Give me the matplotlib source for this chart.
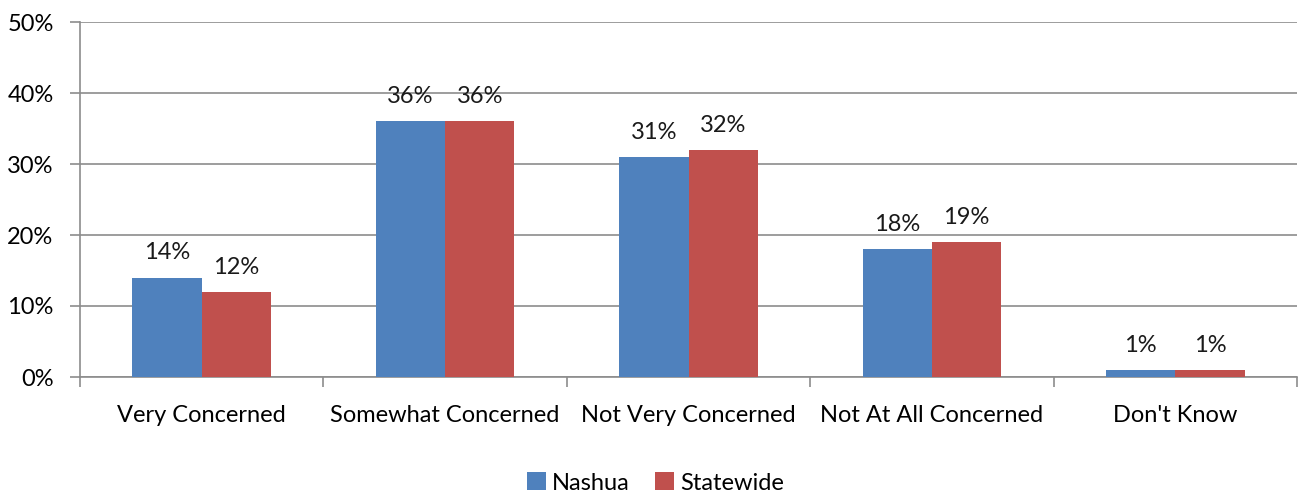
import numpy as np
import matplotlib.pyplot as plt

plt.rcParams['font.family'] = ['Lato', 'DejaVu Sans']

categories = ['Very Concerned', 'Somewhat Concerned', 'Not Very Concerned',
              'Not At All Concerned', "Don't Know"]
nashua = [14, 36, 31, 18, 1]
statewide = [12, 36, 32, 19, 1]

blue = '#4F81BD'
red = '#C0504D'
grid_c = '#8C8C8C'
fs = 17

fig = plt.figure(figsize=(12.98, 4.95), dpi=100)
ax = fig.add_axes([80 / 1298, 1 - 377 / 495, 1217 / 1298, 355 / 495])

x = np.arange(len(categories))
w = 0.285
b1 = ax.bar(x - w / 2, nashua, w, color=blue, label='Nashua', zorder=3)
b2 = ax.bar(x + w / 2, statewide, w, color=red, label='Statewide', zorder=3)

for bars, vals in ((b1, nashua), (b2, statewide)):
    for r, v in zip(bars, vals):
        ax.text(r.get_x() + r.get_width() / 2, v + 2.0, '%d%%' % v,
                ha='center', va='bottom', fontsize=fs, color='#1a1a1a')

ax.set_xlim(-0.5, len(categories) - 0.5)
ax.set_ylim(0, 50)
ax.set_yticks(range(0, 51, 10))
ax.set_yticklabels(['%d%%' % t for t in range(0, 51, 10)], fontsize=fs)
ax.yaxis.grid(True, color=grid_c, linewidth=1.2, zorder=0)

ax.set_xticks(x)
ax.set_xticklabels(categories, fontsize=fs)
ax.set_xticks(np.arange(len(categories) + 1) - 0.5, minor=True)
ax.tick_params(axis='x', which='major', length=0, pad=20)
ax.tick_params(axis='x', which='minor', length=7, color=grid_c, width=1.2)
ax.tick_params(axis='y', length=7, color=grid_c, width=1.2, pad=12)

for s in ('top', 'right'):
    ax.spines[s].set_visible(False)
for s in ('left', 'bottom'):
    ax.spines[s].set_color(grid_c)
    ax.spines[s].set_linewidth(1.2)

fig.legend(handles=[b1, b2], loc='center', bbox_to_anchor=(0.505, 1 - 483 / 495),
           ncol=2, frameon=False, fontsize=fs, handlelength=0.8,
           handleheight=0.8, handletextpad=0.25, columnspacing=1.1)

fig.savefig('out.png', dpi=100)
